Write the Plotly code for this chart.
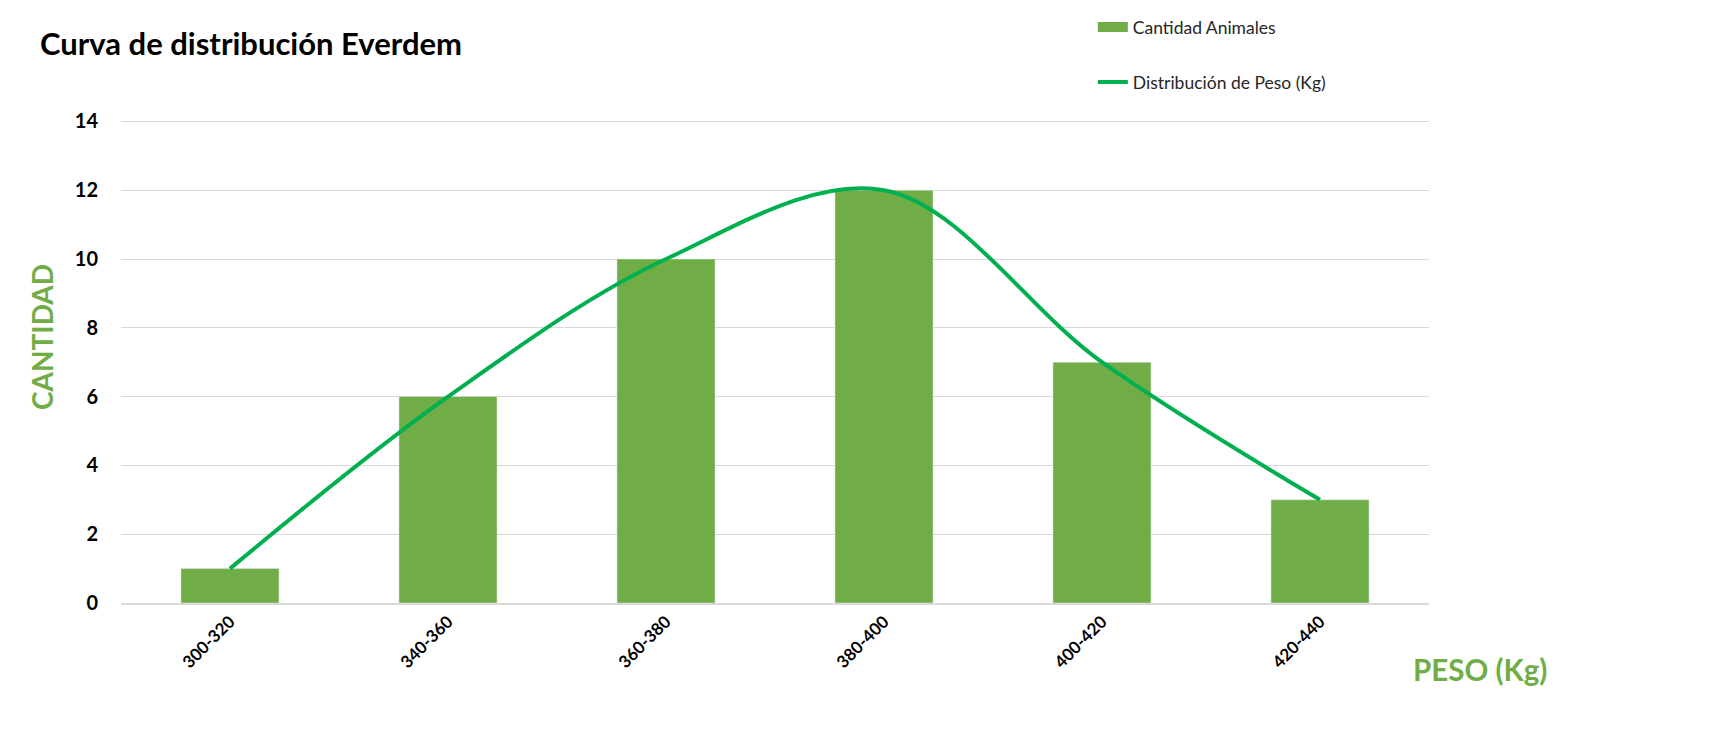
import plotly.graph_objects as go

categories = ["300-320", "340-360", "360-380", "380-400", "400-420", "420-440"]
cantidad = [1, 6, 10, 12, 7, 3]
distribucion = [1, 6, 10, 12, 7, 3]
y_ticks = [0, 2, 4, 6, 8, 10, 12, 14]

BAR = "#70AD47"
LINE = "#00B050"
FONT = "Lato"

fig = go.Figure()
fig.add_trace(go.Bar(x=categories, y=cantidad, marker_color=BAR, name="Cantidad Animales",
                     showlegend=False))
# legend swatch for bars (wide rectangle like the original)
fig.add_trace(go.Scatter(x=[None], y=[None], mode="lines", name="Cantidad Animales",
                         line=dict(color=BAR, width=11), legend="legend"))
fig.add_trace(go.Scatter(x=categories, y=distribucion, mode="lines", name="Distribución de Peso (Kg)",
                         line=dict(color=LINE, width=4, shape="spline", smoothing=1),
                         legend="legend2"))

fig.update_layout(
    width=1726, height=744,
    margin=dict(l=121, r=297, t=118, b=141, autoexpand=False),
    paper_bgcolor="white", plot_bgcolor="white",
    bargap=0.55,
    font=dict(family=FONT, color="black"),
    title=dict(text="<b>Curva de distribución Everdem</b>", x=40/1726, xanchor="left",
               y=1-44/744, yanchor="middle", xref="container", yref="container",
               font=dict(size=31, color="black", family=FONT)),
    legend=dict(x=0.743, xanchor="left", y=1 - 9/744, yanchor="top", yref="container",
                font=dict(size=17.5, color="#262626"), bgcolor="rgba(0,0,0,0)"),
    legend2=dict(x=0.743, xanchor="left", y=1 - 64/744, yanchor="top", yref="container",
                 font=dict(size=17.5, color="#262626"), bgcolor="rgba(0,0,0,0)"),
    xaxis=dict(type="category", tickangle=-45,
               tickfont=dict(size=17, color="black", family=FONT, weight="bold"),
               showgrid=False, showline=True, linecolor="#D9D9D9", linewidth=2, ticks=""),
    yaxis=dict(range=[0, 14.1], tickvals=y_ticks, showgrid=True, gridcolor="#D9D9D9", gridwidth=1,
               zeroline=False, showline=False, ticks="", ticklabelstandoff=22,
               tickfont=dict(size=20, color="black", family=FONT, weight="bold")),
)

fig.add_annotation(text="<b>CANTIDAD</b>", xref="paper", yref="paper", x=(42-121)/1308, y=(603-337)/485,
                   textangle=-90, showarrow=False, font=dict(size=28, color=BAR, family=FONT),
                   xanchor="center", yanchor="middle")
fig.add_annotation(text="<b>PESO (Kg)</b>", xref="paper", yref="paper", x=(1480-121)/1308, y=(603-669)/485,
                   showarrow=False, font=dict(size=29.5, color=BAR, family=FONT),
                   xanchor="center", yanchor="middle")

fig.write_html("out.html")
